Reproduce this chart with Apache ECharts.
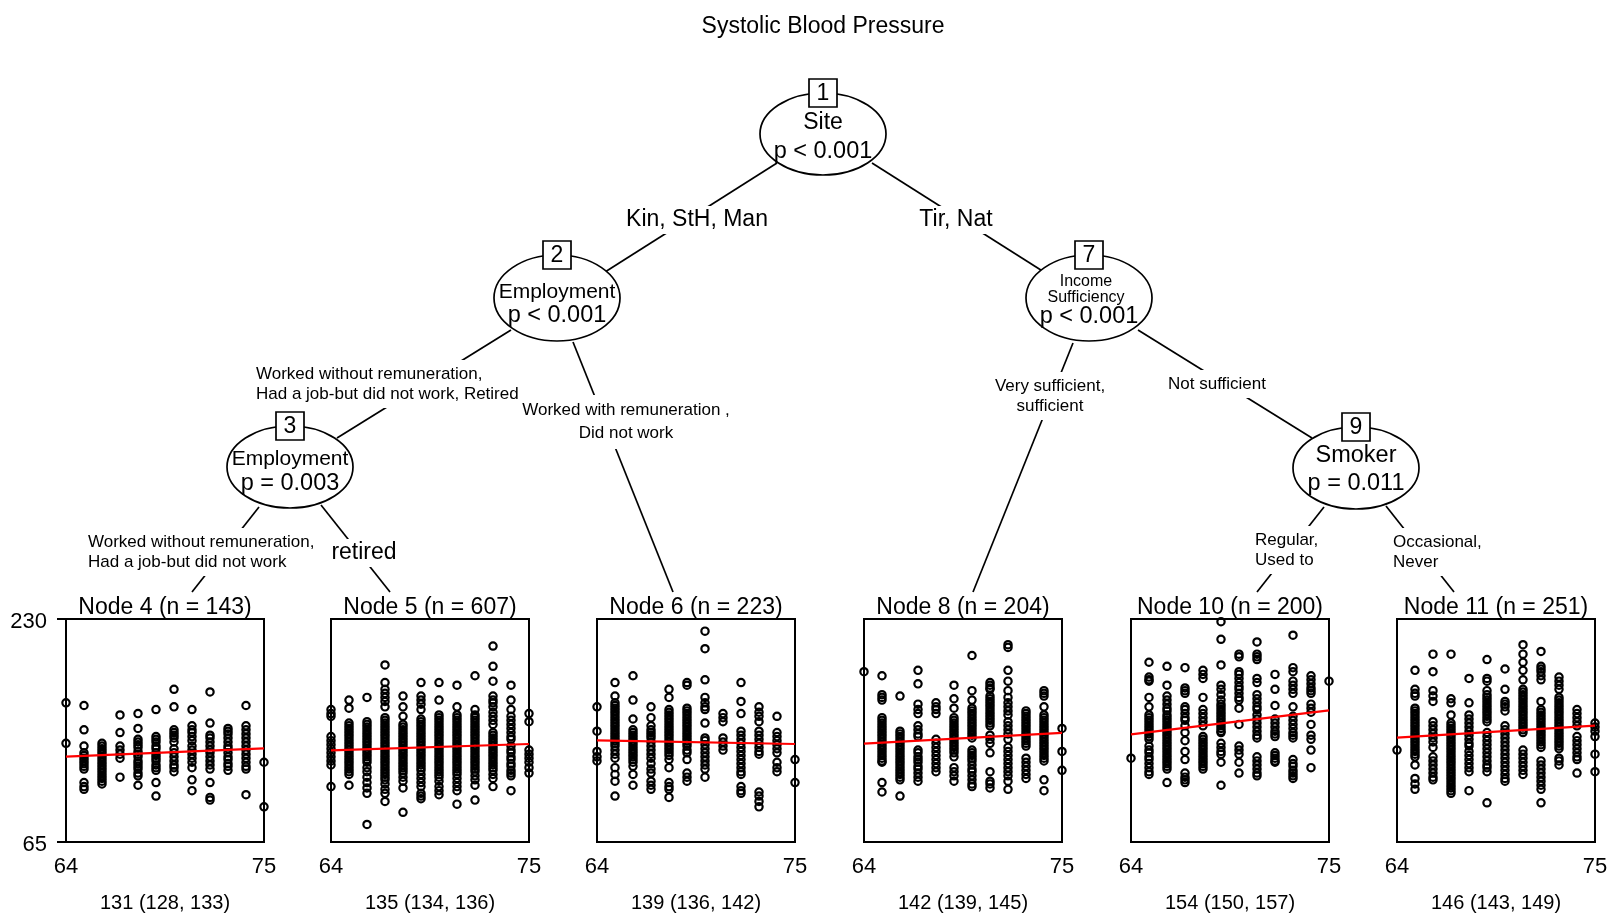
<!DOCTYPE html>
<html>
<head>
<meta charset="utf-8">
<title>Systolic Blood Pressure</title>
<script src="https://cdn.jsdelivr.net/npm/echarts@6.0.0/dist/echarts.min.js"></script>
<style>
  html, body { margin: 0; padding: 0; background: #fff; }
  #chart { width: 1617px; height: 923px; }
</style>
</head>
<body>
<div id="chart"></div>
<script>
// ages on the x axis of every terminal node (one column of points per age)
const ages = [64, 65, 66, 67, 68, 69, 70, 71, 72, 73, 74, 75];
const xTicks = [64, 75];
const yTicks = [65, 230];

const nodeTitles = ["Node 4 (n = 143)", "Node 5 (n = 607)", "Node 6 (n = 223)",
  "Node 8 (n = 204)", "Node 10 (n = 200)", "Node 11 (n = 251)"];
const nodeSummary = ["131 (128, 133)", "135 (134, 136)", "139 (136, 142)",
  "142 (139, 145)", "154 (150, 157)", "146 (143, 149)"];

// systolic blood pressure, one list per age 64..75
const sbpNode4 = [
  [168, 138],
  [166, 148, 136, 131, 129, 127, 125, 123, 121, 119, 109, 106, 104],
  [138, 136, 134, 132, 130, 128, 126, 124, 122, 120, 118, 116, 114, 112, 110, 108],
  [159, 146, 136, 133, 130, 127, 113],
  [160, 149, 141, 139, 137, 135, 132, 130, 128, 125, 123, 121, 119, 116, 114, 107],
  [163, 143, 141, 139, 136, 134, 131, 129, 127, 125, 122, 120, 118, 109, 99],
  [178, 165, 148, 146, 144, 142, 139, 134, 131, 128, 125, 122, 120, 117],
  [163, 151, 148, 146, 143, 140, 136, 133, 130, 127, 124, 120, 111, 103],
  [176, 153, 144, 142, 139, 136, 133, 131, 128, 125, 122, 119, 109, 98, 96],
  [149, 147, 145, 142, 139, 136, 134, 131, 128, 126, 123, 121, 118],
  [166, 151, 148, 145, 142, 139, 136, 133, 130, 127, 124, 121, 119, 100],
  [124, 91]
];
const sbpNode5 = [
  [163, 160, 158, 143, 140, 137, 134, 131, 128, 125, 122, 106],
  [170, 164, 153, 151, 149, 147, 145, 143, 141, 139, 137, 135, 133, 131, 129, 127, 125, 123, 121, 119, 117, 115, 107],
  [172, 154, 152, 150, 148, 146, 144, 142, 140, 138, 136, 134, 132, 130, 128, 126, 124, 120, 117, 113, 109, 105, 101, 78],
  [196, 183, 178, 175, 172, 169, 165, 157, 155, 153, 151, 149, 147, 145, 143, 141, 139, 137, 135, 133, 131, 129, 127, 125, 123, 121, 119, 117, 115, 113, 111, 108, 104, 101, 95],
  [173, 165, 158, 152, 150, 148, 146, 144, 142, 140, 138, 136, 134, 132, 130, 128, 126, 124, 122, 120, 118, 116, 113, 110, 105, 87],
  [183, 173, 170, 167, 163, 156, 154, 152, 150, 148, 146, 144, 142, 140, 138, 136, 134, 132, 130, 128, 126, 124, 122, 120, 118, 115, 112, 109, 106, 101, 99, 97],
  [183, 170, 159, 157, 155, 153, 151, 149, 147, 145, 143, 141, 139, 137, 135, 133, 131, 129, 127, 125, 123, 121, 119, 117, 115, 113, 110, 106, 103, 100],
  [181, 165, 159, 157, 155, 153, 151, 149, 147, 145, 143, 141, 139, 137, 135, 133, 131, 129, 127, 125, 123, 121, 119, 117, 115, 112, 109, 106, 103, 93],
  [188, 163, 159, 157, 155, 153, 151, 149, 147, 145, 143, 141, 139, 137, 135, 133, 131, 129, 127, 125, 123, 121, 119, 117, 114, 111, 107, 96],
  [210, 195, 184, 173, 170, 168, 165, 161, 158, 155, 152, 146, 144, 142, 140, 138, 136, 134, 132, 130, 128, 126, 124, 122, 120, 118, 115, 112, 106],
  [181, 170, 163, 158, 155, 152, 149, 146, 143, 141, 136, 133, 131, 128, 126, 123, 121, 118, 116, 114, 103],
  [160, 154, 133, 130, 127, 124, 120, 116]
];
const sbpNode6 = [
  [165, 147, 132, 128, 125],
  [183, 173, 168, 166, 164, 162, 160, 158, 156, 154, 152, 150, 148, 146, 144, 142, 140, 138, 136, 133, 130, 127, 120, 115, 110, 99],
  [188, 170, 156, 148, 146, 144, 142, 140, 138, 136, 134, 132, 130, 128, 126, 124, 121, 115, 107],
  [165, 157, 151, 148, 146, 144, 142, 139, 136, 133, 130, 127, 123, 119, 116, 110, 107, 104],
  [178, 172, 163, 161, 159, 157, 155, 153, 151, 149, 147, 145, 143, 141, 139, 137, 135, 133, 131, 129, 126, 120, 109, 106, 104, 98],
  [183, 181, 164, 162, 160, 158, 156, 154, 152, 150, 148, 146, 144, 142, 140, 138, 136, 133, 131, 126, 116, 113, 110],
  [221, 208, 185, 172, 168, 165, 163, 153, 142, 140, 137, 134, 131, 128, 125, 122, 119, 113],
  [160, 157, 154, 142, 139, 136, 133],
  [183, 169, 160, 147, 144, 141, 138, 135, 132, 129, 126, 123, 120, 117, 115, 106, 103, 101],
  [165, 161, 158, 154, 147, 144, 141, 138, 135, 132, 130, 102, 99, 95, 91],
  [158, 146, 143, 140, 137, 134, 131, 124, 120, 117],
  [126, 109]
];
const sbpNode8 = [
  [191],
  [188, 174, 172, 170, 157, 155, 153, 151, 149, 147, 145, 143, 141, 139, 137, 135, 133, 131, 129, 127, 125, 124, 109, 102],
  [173, 147, 145, 143, 141, 139, 137, 135, 133, 131, 129, 127, 125, 123, 121, 119, 117, 115, 113, 111, 99],
  [192, 182, 167, 163, 160, 151, 148, 145, 143, 133, 131, 128, 126, 124, 121, 119, 116, 113, 110],
  [168, 165, 163, 160, 141, 138, 135, 132, 129, 126, 123, 120, 117],
  [181, 171, 164, 157, 155, 153, 151, 149, 147, 145, 143, 141, 139, 137, 135, 133, 131, 128, 120, 117, 114, 110],
  [203, 177, 170, 164, 162, 160, 158, 156, 154, 152, 150, 148, 146, 144, 142, 133, 131, 129, 127, 125, 122, 119, 117, 114, 111, 108, 106],
  [183, 181, 179, 178, 173, 171, 169, 167, 165, 163, 161, 159, 157, 155, 153, 151, 144, 141, 138, 131, 117, 110, 108, 105],
  [211, 209, 192, 184, 177, 172, 168, 165, 162, 159, 154, 151, 148, 145, 141, 135, 132, 129, 126, 123, 120, 117, 114, 110, 104],
  [162, 160, 158, 156, 154, 152, 150, 148, 146, 144, 142, 140, 138, 136, 127, 124, 121, 118, 115, 112],
  [177, 175, 173, 165, 159, 157, 155, 153, 151, 149, 147, 145, 143, 141, 139, 137, 135, 133, 131, 129, 127, 125, 111, 103],
  [149, 132, 118]
];
const sbpNode10 = [
  [127],
  [198, 187, 185, 184, 172, 165, 159, 157, 155, 153, 151, 149, 147, 145, 143, 141, 136, 133, 131, 128, 126, 123, 120, 117, 115],
  [195, 181, 173, 170, 167, 164, 162, 159, 157, 155, 153, 151, 149, 147, 145, 143, 141, 139, 137, 135, 133, 131, 129, 127, 125, 123, 121, 119, 109],
  [194, 179, 177, 175, 165, 163, 160, 157, 155, 151, 146, 140, 132, 126, 116, 113, 111, 109],
  [192, 189, 186, 172, 163, 160, 157, 154, 151, 143, 141, 139, 137, 135, 133, 131, 129, 127, 125, 123, 121, 119],
  [228, 215, 196, 181, 178, 174, 170, 167, 165, 163, 161, 159, 157, 155, 153, 151, 149, 147, 146, 138, 135, 132, 130, 124, 107],
  [204, 202, 191, 189, 186, 183, 180, 178, 175, 172, 170, 164, 152, 136, 133, 130, 124, 116],
  [213, 204, 202, 200, 186, 183, 174, 171, 168, 165, 163, 159, 156, 153, 150, 147, 144, 142, 128, 125, 122, 119, 116, 114],
  [189, 178, 166, 156, 153, 150, 147, 145, 143, 131, 129, 127, 125, 124],
  [218, 194, 191, 184, 181, 178, 175, 165, 158, 155, 152, 149, 146, 144, 142, 126, 123, 121, 118, 116, 114, 112],
  [188, 185, 182, 179, 177, 175, 167, 164, 161, 152, 144, 141, 133, 120],
  [184]
];
const sbpNode11 = [
  [133],
  [192, 178, 175, 173, 164, 162, 160, 158, 156, 154, 152, 150, 148, 146, 144, 142, 140, 138, 136, 134, 132, 130, 128, 122, 112, 108, 104],
  [204, 191, 177, 173, 169, 154, 151, 148, 145, 142, 139, 135, 128, 125, 122, 119, 116, 113, 111],
  [204, 171, 168, 159, 153, 151, 149, 147, 145, 143, 141, 139, 137, 135, 133, 131, 129, 127, 125, 123, 121, 119, 117, 115, 113, 111, 109, 107, 105, 103, 101],
  [186, 168, 159, 156, 153, 150, 147, 144, 141, 138, 136, 132, 129, 126, 123, 120, 117, 103],
  [200, 186, 184, 177, 174, 172, 170, 168, 166, 164, 162, 160, 158, 156, 154, 146, 143, 140, 137, 134, 131, 128, 125, 122, 120, 117, 94],
  [193, 178, 169, 167, 165, 162, 151, 148, 145, 142, 139, 136, 133, 130, 127, 124, 121, 118, 115, 112, 110],
  [211, 204, 198, 192, 185, 178, 176, 174, 172, 170, 168, 166, 164, 162, 160, 158, 156, 154, 152, 150, 148, 146, 133, 130, 127, 124, 121, 118, 115],
  [206, 195, 193, 191, 188, 185, 169, 163, 161, 159, 157, 155, 153, 151, 149, 147, 145, 143, 141, 139, 137, 135, 125, 122, 119, 116, 113, 110, 107, 104, 94],
  [187, 184, 181, 178, 172, 170, 168, 166, 164, 162, 160, 158, 156, 154, 152, 150, 148, 146, 144, 142, 140, 138, 136, 134, 127, 125, 122],
  [163, 160, 157, 154, 151, 143, 140, 137, 134, 131, 128, 126, 116],
  [153, 150, 147, 143, 130, 117]
];

// red fitted line in each panel, value at age 64 and at age 75
const fitAt64 = [128.2, 132.8, 140.2, 137.8, 144.7, 142.2];
const fitAt75 = [134.3, 137.5, 137.5, 145.7, 162.4, 151.1];

const panelData = [sbpNode4, sbpNode5, sbpNode6, sbpNode8, sbpNode10, sbpNode11];

// layout
const FONT = '"Liberation Sans", Arial, sans-serif';
const panelLeft = [66, 331, 597, 864, 1131, 1397];
const panelTop = 619;
const panelW = 198;
const panelH = 223;

// inner nodes of the tree: ellipse centre, id box and text lines [text, size, x, y]
const treeNodes = [
  { id: "1", cx: 823, cy: 134, ry: 41, lines: [["Site", 23, 823, 123], ["p < 0.001", 23.5, 823, 152]] },
  { id: "2", cx: 557, cy: 298, ry: 43, lines: [["Employment", 21, 557, 292], ["p < 0.001", 23.5, 557, 316]] },
  { id: "3", cx: 290, cy: 467, ry: 41, lines: [["Employment", 21, 290, 459], ["p = 0.003", 23.5, 290, 484]] },
  { id: "7", cx: 1089, cy: 298, ry: 43, lines: [["Income", 16, 1086, 282], ["Sufficiency", 16, 1086, 298], ["p < 0.001", 23.5, 1089, 317]] },
  { id: "9", cx: 1356, cy: 468, ry: 41, lines: [["Smoker", 23.5, 1356, 456], ["p = 0.011", 23.5, 1356, 484]] },
];

const treeEdges = [
  { from: [777, 163], to: [605, 272], label: "Kin, StH, Man", lx: 697, ly: 220, size: 23, align: "center" },
  { from: [872, 163], to: [1044, 272], label: "Tir, Nat", lx: 956, ly: 220, size: 23, align: "center" },
  { from: [511, 330], to: [337, 438], label: "Worked without remuneration,\nHad a job-but did not work, Retired", lx: 253, ly: 384, size: 17, align: "left" },
  { from: [573, 342], to: [673, 592], label: "Worked with remuneration ,\nDid not work", lx: 626, ly: 422, size: 17, align: "center", lh: 23 },
  { from: [259, 507], to: [192, 592], label: "Worked without remuneration,\nHad a job-but did not work", lx: 85, ly: 552, size: 17, align: "left" },
  { from: [321, 505], to: [390, 592], label: "retired", lx: 364, ly: 553, size: 23, align: "center" },
  { from: [1073, 343], to: [973, 592], label: "Very sufficient,\nsufficient", lx: 1050, ly: 396, size: 17, align: "center" },
  { from: [1138, 330], to: [1312, 438], label: "Not sufficient", lx: 1217, ly: 384, size: 17, align: "center" },
  { from: [1324, 507], to: [1257, 592], label: "Regular,\nUsed to", lx: 1252, ly: 550, size: 17, align: "left" },
  { from: [1386, 506], to: [1454, 592], label: "Occasional,\nNever", lx: 1390, ly: 552, size: 17, align: "left" },
];

function toPoints(cols) {
  const pts = [];
  cols.forEach((col, i) => col.forEach((v) => pts.push([ages[i], v])));
  return pts;
}

function textEl(text, size, x, y, align, extra) {
  return {
    type: "text",
    x: x,
    y: y,
    z: 10,
    style: Object.assign({
      text: text,
      fill: "#000",
      font: size + "px " + FONT,
      align: align || "center",
      textAlign: align || "center",
      verticalAlign: "middle",
      textVerticalAlign: "middle",
    }, extra || {}),
  };
}

const graphic = [];

graphic.push(textEl("Systolic Blood Pressure", 23, 823, 27));

treeEdges.forEach((e) => {
  graphic.push({
    type: "line",
    z: 1,
    shape: { x1: e.from[0], y1: e.from[1], x2: e.to[0], y2: e.to[1] },
    style: { stroke: "#000", lineWidth: 1.7 },
  });
  graphic.push(textEl(e.label, e.size, e.lx, e.ly, e.align, {
    lineHeight: e.lh || 20,
    backgroundColor: "#fff",
    padding: [4, 3],
  }));
});

treeNodes.forEach((n) => {
  graphic.push({
    type: "ellipse",
    z: 3,
    shape: { cx: n.cx, cy: n.cy, rx: 63, ry: n.ry },
    style: { fill: "#fff", stroke: "#000", lineWidth: 1.7 },
  });
  graphic.push({
    type: "rect",
    z: 4,
    shape: { x: n.cx - 14, y: n.cy - n.ry - 14, width: 28, height: 28 },
    style: { fill: "#fff", stroke: "#000", lineWidth: 1.7 },
  });
  graphic.push(textEl(n.id, 23, n.cx, n.cy - n.ry + 1));
  n.lines.forEach((l) => graphic.push(textEl(l[0], l[1], l[2], l[3])));
});

const grids = [], xAxes = [], yAxes = [], series = [];

panelData.forEach((cols, i) => {
  const mid = panelLeft[i] + panelW / 2;
  graphic.push(textEl(nodeTitles[i], 23, mid, 608));
  graphic.push(textEl(nodeSummary[i], 20, mid, 903));

  grids.push({
    left: panelLeft[i], top: panelTop, width: panelW, height: panelH,
    show: true, borderColor: "#000", borderWidth: 2,
  });
  xAxes.push({
    type: "value", gridIndex: i, min: 64, max: 75,
    axisLine: { show: false },
    axisTick: { show: false },
    splitLine: { show: false },
    axisLabel: { customValues: xTicks, color: "#000", fontSize: 22, fontFamily: FONT, margin: 14 },
  });
  yAxes.push({
    type: "value", gridIndex: i, min: 65, max: 230,
    axisLine: { show: i === 0, lineStyle: { color: "#000", width: 2 } },
    axisTick: { show: i === 0, customValues: yTicks, length: 9, lineStyle: { color: "#000", width: 2 } },
    splitLine: { show: false },
    axisLabel: {
      show: i === 0, customValues: yTicks, margin: 19,
      formatter: "{v|{value}}",
      rich: { v: { color: "#000", fontSize: 22, fontFamily: FONT, padding: [6, 0, 0, 0] } },
    },
  });
  series.push({
    type: "scatter",
    xAxisIndex: i, yAxisIndex: i,
    data: toPoints(cols),
    symbol: "circle",
    symbolSize: 7.3,
    clip: false,
    silent: true,
    itemStyle: { color: "rgba(0,0,0,0)", borderColor: "#000", borderWidth: 2.2, opacity: 1 },
    z: 2,
  });
  series.push({
    type: "line",
    xAxisIndex: i, yAxisIndex: i,
    data: [[64, fitAt64[i]], [75, fitAt75[i]]],
    symbol: "none",
    silent: true,
    lineStyle: { color: "#ff0000", width: 2.2 },
    z: 3,
  });
});

const chart = echarts.init(document.getElementById("chart"));
chart.setOption({
  animation: false,
  backgroundColor: "#fff",
  grid: grids,
  xAxis: xAxes,
  yAxis: yAxes,
  series: series,
  graphic: graphic,
});
</script>
</body>
</html>
